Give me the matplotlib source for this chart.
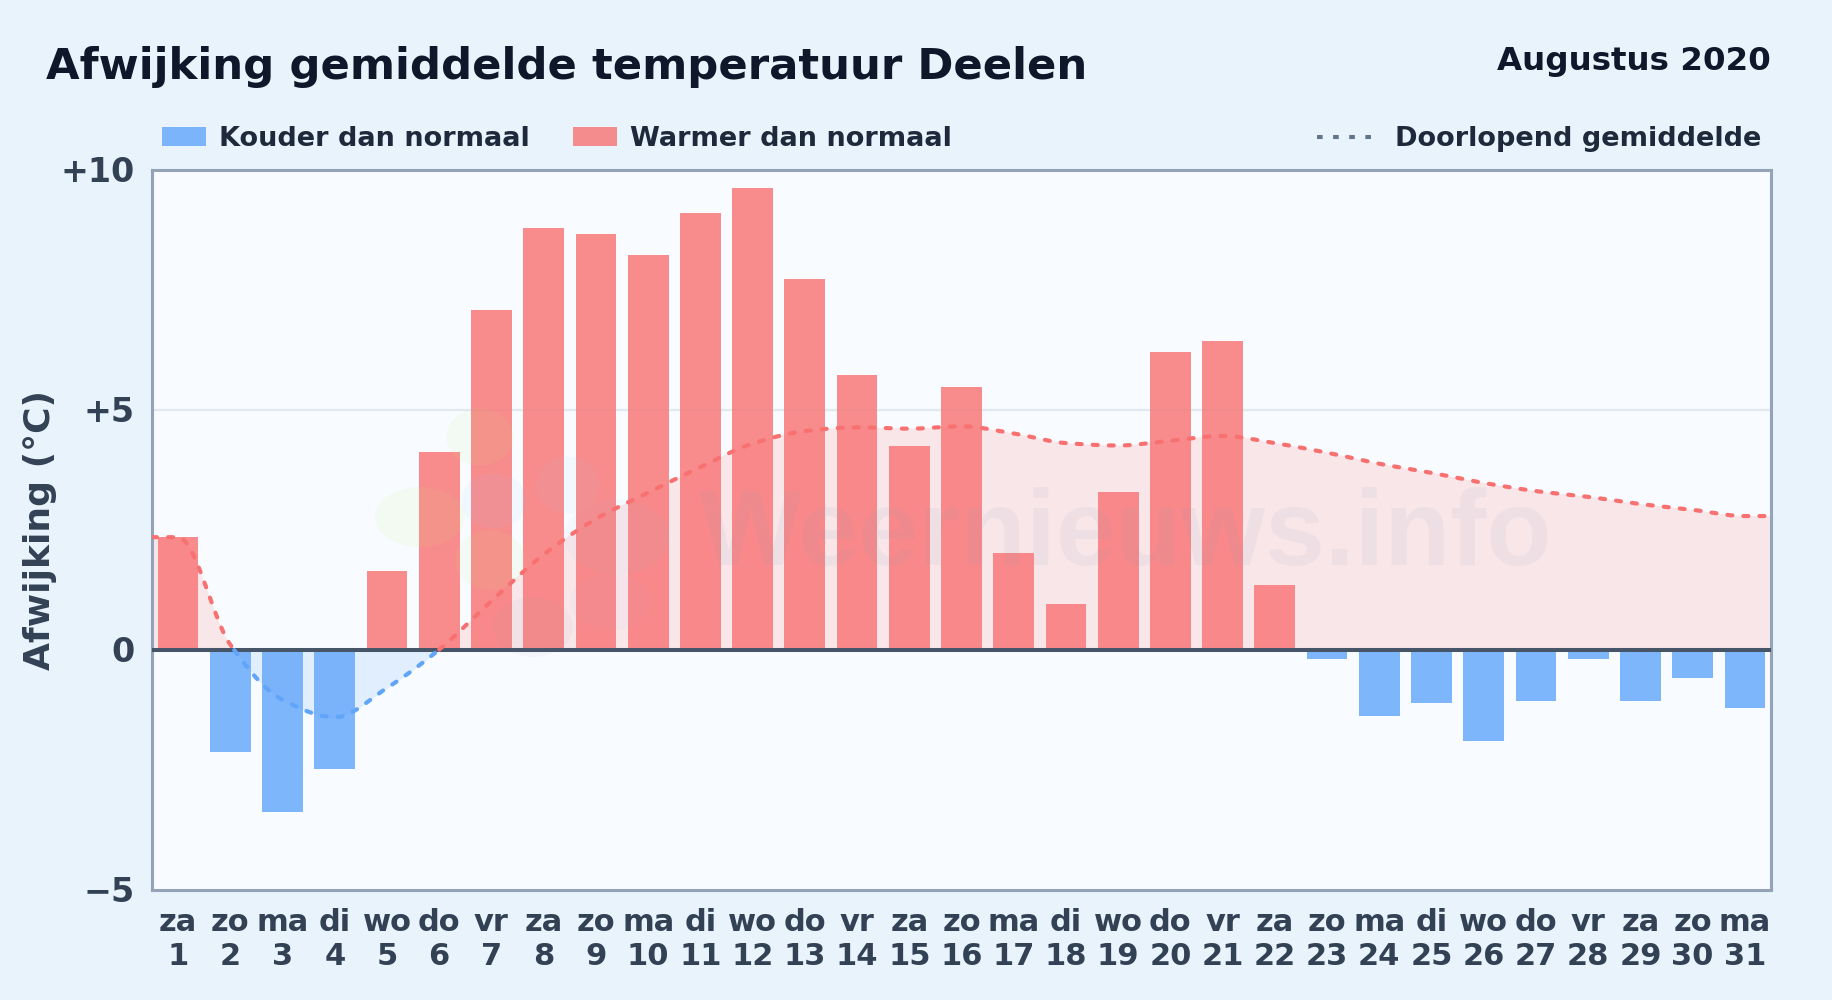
import numpy as np
import matplotlib
matplotlib.use("Agg")
import matplotlib.pyplot as plt
from matplotlib.patches import Ellipse, Rectangle
from matplotlib.lines import Line2D

days = list(range(1, 32))
weekdays = ["za","zo","ma","di","wo","do","vr","za","zo","ma","di","wo","do","vr","za","zo",
            "ma","di","wo","do","vr","za","zo","ma","di","wo","do","vr","za","zo","ma"]
deviation = [2.34,-2.14,-3.38,-2.48,1.63,4.11,7.08,8.78,8.66,8.22,9.10,9.61,7.71,5.72,4.23,5.47,
             2.02,0.95,3.28,6.20,6.42,1.34,-0.20,-1.39,-1.12,-1.90,-1.07,-0.19,-1.08,-0.60,-1.22]
running_mean = [2.34,0.10,-1.05,-1.41,-0.80,0.00,1.01,1.98,2.72,3.27,3.80,4.29,4.55,4.63,4.60,4.65,
                4.50,4.30,4.25,4.35,4.45,4.30,4.10,3.87,3.68,3.47,3.30,3.18,3.03,2.91,2.78]
y_ticks = [-5, 0, 5, 10]
y_labels = ["\u22125", "0", "+5", "+10"]

W, H = 1832, 1000
BG = "#e8f3fc"; PLOT = "#f8fbff"; RED = "#f87171"; BLUE = "#60a5fa"
DARK = "#0f172a"; LEG = "#1e293b"; TICK = "#334155"

plt.rcParams["font.family"] = "DejaVu Sans"
fig = plt.figure(figsize=(W/100, H/100), dpi=100, facecolor=BG)
L, R, T, B = 152, 1771, 169.5, 889.5
ax = fig.add_axes([L/W, 1-B/H, (R-L)/W, (B-T)/H], facecolor=PLOT)
ax.set_xlim(0.5, 31.5); ax.set_ylim(-5, 10)

def fx(x): return x/W
def fy(y): return 1-y/H

# monotone cubic curve through the daily values, flat out to the frame
kx = np.array([0.5] + days + [31.5], float)
ky = np.array([running_mean[0]] + running_mean + [running_mean[-1]], float)
sl = np.diff(ky)/np.diff(kx)
tan = np.zeros_like(ky)
for i in range(1, len(ky)-1):
    if sl[i-1]*sl[i] > 0:
        tan[i] = 2*sl[i-1]*sl[i]/(sl[i-1]+sl[i])
xs, ys = [], []
for i in range(len(kx)-1):
    h = kx[i+1]-kx[i]
    t = np.linspace(0, 1, 40, endpoint=False)
    xs.append(kx[i]+h*t)
    ys.append((2*t**3-3*t**2+1)*ky[i]+(t**3-2*t**2+t)*h*tan[i]+(-2*t**3+3*t**2)*ky[i+1]+(t**3-t**2)*h*tan[i+1])
xs = np.append(np.concatenate(xs), kx[-1]); ys = np.append(np.concatenate(ys), ky[-1])

ax.axhline(5, color="#e2e8f0", lw=1.6, zorder=0.5)
ax.fill_between(xs, ys, 0, where=ys >= 0, interpolate=True, color=RED, alpha=0.15, lw=0, zorder=1)
ax.fill_between(xs, ys, 0, where=ys <= 0, interpolate=True, color=BLUE, alpha=0.15, lw=0, zorder=1)

colors = [RED if v >= 0 else BLUE for v in deviation]
ax.bar(days, deviation, width=0.78, color=colors, alpha=0.8, lw=0, zorder=2)
ax.axhline(0, color="#475569", lw=2.9, zorder=3)

dash = (0, (1.2, 2.65))
for mask, col in ((ys < 0, RED), (ys > 0, BLUE)):
    ax.plot(xs, np.ma.masked_where(mask, ys), color=col, lw=3.0, ls=dash,
            dash_capstyle="round", zorder=4)

for s in ax.spines.values():
    s.set_color("#94a3b8"); s.set_linewidth(2.2)
ax.set_yticks(y_ticks, y_labels)
ax.set_xticks(days, [f"{w}\n{d}" for w, d in zip(weekdays, days)])
ax.tick_params(length=0)
ax.tick_params(axis="y", pad=12.5, labelsize=24, labelcolor=TICK)
ax.tick_params(axis="x", pad=13, labelsize=22, labelcolor=TICK)
for lab in ax.get_xticklabels() + ax.get_yticklabels():
    lab.set_fontweight("bold")
for lab in ax.get_xticklabels():
    lab.set_linespacing(1.25)

fig.text(fx(40), fy(530), "Afwijking (\u00b0C)", rotation=90, ha="center", va="center",
         fontsize=26, fontweight="bold", color=TICK)
fig.text(fx(46), fy(79), "Afwijking gemiddelde temperatuur Deelen", ha="left", va="baseline",
         fontsize=31.2, fontweight="bold", color=DARK)
fig.text(fx(1771), fy(70), "Augustus 2020", ha="right", va="baseline",
         fontsize=23.4, fontweight="bold", color=DARK)

# legend
for x0, col, label, tx in ((162, BLUE, "Kouder dan normaal", 219),
                           (573, RED, "Warmer dan normaal", 630)):
    fig.add_artist(Rectangle((fx(x0), fy(146)), 44/W, 19/H, transform=fig.transFigure,
                             facecolor=col, alpha=0.8, lw=0))
    fig.text(fx(tx), fy(146), label, ha="left", va="baseline", fontsize=19.5,
             fontweight="bold", color=LEG)
fig.add_artist(Line2D([fx(1317), fx(1375)], [fy(137), fy(137)], color="#64748b", lw=2.9,
                      ls=(0, (1.4, 2.6)), transform=fig.transFigure))
fig.text(fx(1395), fy(146), "Doorlopend gemiddelde", ha="left", va="baseline", fontsize=19.5,
         fontweight="bold", color=LEG)

# faint watermark
ax.text((700-L)/(R-L), (B-565)/(B-T), "Weernieuws.info", transform=ax.transAxes, ha="left", va="baseline",
        fontsize=77.5, fontweight="bold", family="Liberation Sans", color="#94a3b8", alpha=0.09, zorder=2.5)
for cx, cy, w_, h_, col, a in ((480, 437, 67, 57, "#bef264", 0.07), (420, 517, 90, 60, "#bef264", 0.08),
                               (490, 560, 70, 60, "#bef264", 0.07), (494, 501, 65, 55, "#93c5fd", 0.07),
                               (568, 485, 63, 57, "#7dd3fc", 0.05), (617, 537, 105, 75, "#93c5fd", 0.05),
                               (610, 602, 80, 57, "#93c5fd", 0.04), (533, 627, 80, 60, "#94a3b8", 0.05)):
    ax.add_patch(Ellipse(((cx-L)/(R-L), (B-cy)/(B-T)), w_/(R-L), h_/(B-T), transform=ax.transAxes,
                         color=col, alpha=a, lw=0, zorder=2.5))

fig.savefig("out.png", dpi=100, facecolor=BG)
